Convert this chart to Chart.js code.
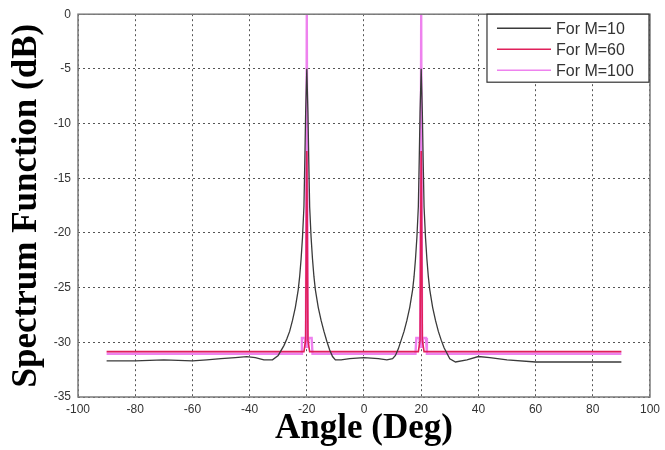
<!DOCTYPE html>
<html lang="en">
<head>
  <meta charset="UTF-8">
  <title>Spectrum Function</title>
  <script src="https://cdn.jsdelivr.net/npm/chart.js"></script>
  <style>
    body { margin: 0; background: #ffffff; }
    #wrap { width: 665px; height: 450px; }
  </style>
</head>
<body>
<div id="wrap"><canvas id="specChart" width="665" height="450"></canvas></div>
<script>
  // M=10 (broad peaks)
  const angles10 = [-90, -80, -70, -60, -55, -50, -45, -41, -38, -35, -32, -30, -28, -27, -26, -25, -24, -23, -22.5, -22, -21.5, -21, -20.7, -20.4, -20,
    -19.6, -19.3, -19, -18.5, -18, -17.5, -17, -16, -15, -14, -13, -12, -11, -10, -8, -5, 0, 5, 8, 10,
    11, 12, 13, 14, 15, 16, 17, 17.5, 18, 18.5, 19, 19.3, 19.6, 20,
    20.4, 20.7, 21, 21.5, 22, 22.5, 23, 24, 25, 26, 27, 28, 30, 32, 36, 40, 44, 50, 60, 70, 80, 90];
  const m10 = [-31.7, -31.7, -31.6, -31.7, -31.6, -31.5, -31.4, -31.3, -31.4, -31.6, -31.6, -31.2, -30.3, -29.7, -29.0, -28.0, -26.8, -25.2, -24.0, -22.4, -20.4, -17.6, -13.5, -9, -5,
    -9, -13.5, -17.6, -20.4, -22.4, -24.0, -25.2, -26.8, -28.0, -29.0, -29.9, -30.7, -31.3, -31.6, -31.6, -31.5, -31.4, -31.5, -31.6, -31.5,
    -31.2, -30.6, -29.8, -29.0, -28.0, -26.8, -25.2, -24.0, -22.4, -20.4, -17.6, -13.5, -9, -5,
    -9, -13.5, -17.6, -20.4, -22.4, -24.0, -25.2, -26.8, -28.0, -29.0, -29.8, -30.5, -31.5, -31.8, -31.6, -31.3, -31.4, -31.6, -31.8, -31.8, -31.8, -31.8];

  // M=60
  const angles60 = [-90, -21, -20.4, -20, -19.6, -19, 19, 19.6, 20, 20.4, 21, 90];
  const m60 = [-30.85, -30.85, -29.8, -12.5, -29.8, -30.85, -30.85, -29.8, -12.5, -29.8, -30.85, -30.85];

  // M=100
  const angles100 = [-90, -22, -21.7, -20.7, -20.3, -20, -19.7, -19.3, -18.3, -18,
    18, 18.3, 19.3, 19.7, 20, 20.3, 20.7, 21.7, 22, 90];
  const m100 = [-31.05, -31.05, -29.6, -29.6, -30.5, 0, -30.5, -29.6, -29.6, -31.05,
    -31.05, -29.6, -29.6, -30.5, 0, -30.5, -29.6, -29.6, -31.05, -31.05];

  const seriesLabels = ["For M=10", "For M=60", "For M=100"];
  const seriesColors = ["#3a3a3a", "#e0205a", "#ee82ee"];

  function toPoints(xs, ys) {
    return xs.map((x, i) => ({ x: x, y: ys[i] }));
  }

  // frame + legend box inside the plot
  const framePlugin = {
    id: 'frame',
    afterDraw(chart) {
      const ctx = chart.ctx;
      const a = chart.chartArea;
      ctx.save();
      ctx.strokeStyle = '#7a7a7a';
      ctx.lineWidth = 1.5;
      ctx.strokeRect(a.left, a.top, a.right - a.left, a.bottom - a.top);

      const bx = a.right - 163, by = a.top, bw = 162, bh = 68;
      ctx.fillStyle = '#ffffff';
      ctx.fillRect(bx, by, bw, bh);
      ctx.strokeStyle = '#333';
      ctx.lineWidth = 1.2;
      ctx.strokeRect(bx, by, bw, bh);
      ctx.font = '16px Arial, "Liberation Sans", sans-serif';
      ctx.textBaseline = 'middle';
      seriesLabels.forEach((lab, i) => {
        const y = by + 14 + i * 21;
        ctx.strokeStyle = seriesColors[i];
        ctx.lineWidth = 1.5;
        ctx.beginPath();
        ctx.moveTo(bx + 10, y);
        ctx.lineTo(bx + 64, y);
        ctx.stroke();
        ctx.fillStyle = '#333';
        ctx.fillText(lab, bx + 69, y + 1);
      });
      ctx.restore();
    }
  };

  const ctx = document.getElementById("specChart").getContext("2d");
  new Chart(ctx, {
    type: 'line',
    data: {
      datasets: [
        { label: seriesLabels[0], data: toPoints(angles10, m10), borderColor: seriesColors[0], borderWidth: 1.3, pointRadius: 0 },
        { label: seriesLabels[1], data: toPoints(angles60, m60), borderColor: seriesColors[1], borderWidth: 1.6, pointRadius: 0 },
        { label: seriesLabels[2], data: toPoints(angles100, m100), borderColor: seriesColors[2], borderWidth: 2.4, pointRadius: 0 }
      ]
    },
    options: {
      responsive: false,
      animation: false,
      layout: { padding: { top: 13, right: 14, left: 6, bottom: 0 } },
      plugins: {
        legend: { display: false },
        tooltip: { enabled: false }
      },
      scales: {
        x: {
          type: 'linear',
          min: -100, max: 100,
          ticks: { stepSize: 20, padding: 5, color: '#333', font: { family: 'Arial, "Liberation Sans"', size: 12 } },
          grid: { color: '#555', drawTicks: false },
          border: { display: false, dash: [2, 3] },
          title: {
            display: true, text: 'Angle (Deg)', color: '#000',
            font: { family: '"Liberation Serif", "Times New Roman", serif', size: 35, weight: 'bold' },
            padding: { top: 0, bottom: 0 }
          },
          afterFit(scale) { scale.height = 53; }
        },
        y: {
          min: -35, max: 0,
          ticks: { stepSize: 5, padding: 7, color: '#333', font: { family: 'Arial, "Liberation Sans"', size: 12 } },
          grid: { color: '#555', drawTicks: false },
          border: { display: false, dash: [2, 3] },
          title: {
            display: true, text: 'Spectrum Function (dB)', color: '#000',
            font: { family: '"Liberation Serif", "Times New Roman", serif', size: 35, weight: 'bold' },
            padding: { top: 0, bottom: 0 }
          },
          afterFit(scale) { scale.width = 72; }
        }
      }
    },
    plugins: [framePlugin]
  });
</script>
</body>
</html>
